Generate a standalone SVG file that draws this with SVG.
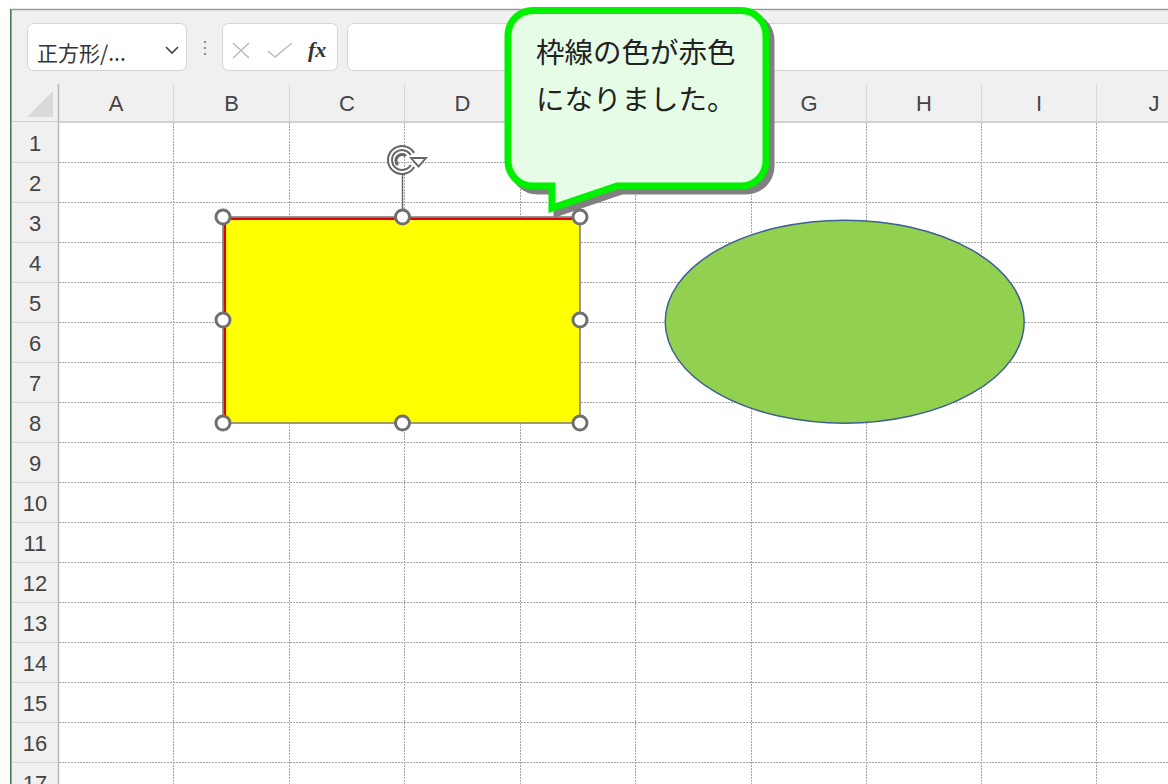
<svg xmlns="http://www.w3.org/2000/svg" width="1168" height="784" viewBox="0 0 1168 784">
<defs>
<style>
.hdr{font-family:"Liberation Sans",Arial,sans-serif;font-size:22px;fill:#444;text-anchor:middle}
.grid{stroke:#a4a4a4;stroke-width:1;stroke-dasharray:2 1;fill:none}
.hsep{stroke:#d9d9d9;stroke-width:1}
.handle{fill:#fff;stroke:#707070;stroke-width:3}
.box{fill:#fff;stroke:#d4d4d4;stroke-width:1}
.jp{font-family:"Noto Sans CJK JP","Noto Sans CJK SC",sans-serif}
</style>
</defs>
<rect width="1168" height="784" fill="#fff"/>
<g id="formula-bar">
<rect x="11" y="9" width="1157" height="113" fill="#f0f0f0"/>
<line x1="10" y1="9.5" x2="1168" y2="9.5" stroke="#9a9a9a" stroke-width="1.5"/>
<rect x="27.5" y="23.5" width="159" height="47" rx="6" class="box"/>
<text x="37" y="61" class="jp" font-size="21" fill="#333">正方形/...</text>
<path d="M166,47 L172,53 L178,47" fill="none" stroke="#444" stroke-width="1.6"/>
<g fill="#999"><circle cx="205" cy="42" r="1.3"/><circle cx="205" cy="48" r="1.3"/><circle cx="205" cy="54" r="1.3"/></g>
<rect x="222.5" y="23.5" width="115" height="47" rx="6" class="box"/>
<path d="M233,43 L249,58 M249,43 L233,58" stroke="#bbb" stroke-width="1.5" fill="none"/>
<path d="M268,51 L275,57 L292,43" stroke="#bbb" stroke-width="1.5" fill="none"/>
<text x="308" y="57" font-family="Liberation Serif,serif" font-style="italic" font-weight="bold" font-size="22" fill="#333">fx</text>
<rect x="347.5" y="23.5" width="830" height="47" rx="6" class="box"/>
</g>
<g id="column-headers">
<path d="M27,117 L53,117 L53,91 Z" fill="#d9d9d9"/>
<g class="hsep">
<line x1="58.5" y1="84" x2="58.5" y2="122"/><line x1="173.5" y1="84" x2="173.5" y2="122"/><line x1="289.5" y1="84" x2="289.5" y2="122"/><line x1="404.5" y1="84" x2="404.5" y2="122"/><line x1="520.5" y1="84" x2="520.5" y2="122"/><line x1="635.5" y1="84" x2="635.5" y2="122"/><line x1="751.5" y1="84" x2="751.5" y2="122"/><line x1="866.5" y1="84" x2="866.5" y2="122"/><line x1="981.5" y1="84" x2="981.5" y2="122"/><line x1="1096.5" y1="84" x2="1096.5" y2="122"/>
</g>
<text class="hdr" x="116" y="111">A</text><text class="hdr" x="231.5" y="111">B</text><text class="hdr" x="347" y="111">C</text><text class="hdr" x="462.5" y="111">D</text><text class="hdr" x="809" y="111">G</text><text class="hdr" x="924" y="111">H</text><text class="hdr" x="1039" y="111">I</text><text class="hdr" x="1154" y="111">J</text>
<line x1="11" y1="122" x2="1168" y2="122" stroke="#c6c6c6" stroke-width="1.5"/>
</g>
<g id="row-headers">
<rect x="11" y="122" width="47" height="662" fill="#f0f0f0"/>
<g class="hsep">
<line x1="12" y1="162.5" x2="58" y2="162.5"/><line x1="12" y1="202.5" x2="58" y2="202.5"/><line x1="12" y1="242.5" x2="58" y2="242.5"/><line x1="12" y1="282.5" x2="58" y2="282.5"/><line x1="12" y1="322.5" x2="58" y2="322.5"/><line x1="12" y1="362.5" x2="58" y2="362.5"/><line x1="12" y1="402.5" x2="58" y2="402.5"/><line x1="12" y1="442.5" x2="58" y2="442.5"/><line x1="12" y1="482.5" x2="58" y2="482.5"/><line x1="12" y1="522.5" x2="58" y2="522.5"/><line x1="12" y1="562.5" x2="58" y2="562.5"/><line x1="12" y1="602.5" x2="58" y2="602.5"/><line x1="12" y1="642.5" x2="58" y2="642.5"/><line x1="12" y1="682.5" x2="58" y2="682.5"/><line x1="12" y1="722.5" x2="58" y2="722.5"/><line x1="12" y1="762.5" x2="58" y2="762.5"/>
</g>
<text class="hdr" x="35" y="151">1</text><text class="hdr" x="35" y="191">2</text><text class="hdr" x="35" y="231">3</text><text class="hdr" x="35" y="271">4</text><text class="hdr" x="35" y="311">5</text><text class="hdr" x="35" y="351">6</text><text class="hdr" x="35" y="391">7</text><text class="hdr" x="35" y="431">8</text><text class="hdr" x="35" y="471">9</text><text class="hdr" x="35" y="511">10</text><text class="hdr" x="35" y="551">11</text><text class="hdr" x="35" y="591">12</text><text class="hdr" x="35" y="631">13</text><text class="hdr" x="35" y="671">14</text><text class="hdr" x="35" y="711">15</text><text class="hdr" x="35" y="751">16</text><text class="hdr" x="35" y="791">17</text>
<line x1="58.5" y1="84" x2="58.5" y2="784" stroke="#b8b8b8" stroke-width="1.5"/>
</g>
<line x1="10.5" y1="9" x2="10.5" y2="784" stroke="#3f7f52" stroke-width="1"/>
<line x1="11.5" y1="9" x2="11.5" y2="784" stroke="#a0a0a0" stroke-width="1"/>
<g id="grid" class="grid">
<path d="M173.5,123V784M289.5,123V784M404.5,123V784M520.5,123V784M635.5,123V784M751.5,123V784M866.5,123V784M981.5,123V784M1096.5,123V784"/>
<path d="M59,162.5H1168M59,202.5H1168M59,242.5H1168M59,282.5H1168M59,322.5H1168M59,362.5H1168M59,402.5H1168M59,442.5H1168M59,482.5H1168M59,522.5H1168M59,562.5H1168M59,602.5H1168M59,642.5H1168M59,682.5H1168M59,722.5H1168M59,762.5H1168"/>
</g>
<g id="ellipse">
<ellipse cx="844.7" cy="321.7" rx="179.5" ry="101.5" fill="#92d050" stroke="#3f5f94" stroke-width="1.5"/>
</g>
<g id="rectangle">
<rect x="223" y="217" width="357" height="206" fill="#ffff00"/>
<path d="M224.8,423 V218.8 H580" fill="none" stroke="#e00000" stroke-width="2.5"/>
<rect x="223" y="217" width="357" height="206" fill="none" stroke="#7a7a7a" stroke-width="1.5"/>
<line x1="402.5" y1="172" x2="402.5" y2="211" stroke="#666" stroke-width="1.5"/>
<g id="rotate-handle" fill="none">
<path d="M412.4,154 A12,12 0 1 0 412.4,166" stroke="#666" stroke-width="6"/>
<path d="M412.4,154 A12,12 0 1 0 412.4,166" stroke="#fff" stroke-width="2"/>
<path d="M398,165 A6,6 0 1 1 406,156" stroke="#666" stroke-width="3"/>
<path d="M409,157 L428,157 L418.5,168 Z" fill="#666" stroke="none"/>
<path d="M413,159 L424,159 L418.5,165 Z" fill="#fff" stroke="none"/>
</g>
<circle class="handle" cx="223" cy="217" r="7"/><circle class="handle" cx="402.5" cy="217" r="7"/><circle class="handle" cx="580" cy="217" r="7"/>
<circle class="handle" cx="223" cy="320" r="7"/><circle class="handle" cx="580" cy="320" r="7"/>
<circle class="handle" cx="223" cy="423" r="7"/><circle class="handle" cx="402.5" cy="423" r="7"/><circle class="handle" cx="580" cy="423" r="7"/>
</g>
<g id="callout">
<path transform="translate(5,5)" d="M533,10.5 H741 A25,25 0 0 1 766,35.5 V161 A25,25 0 0 1 741,186 H617 L552,208 L552,186 H533 A25,25 0 0 1 508,161 V35.5 A25,25 0 0 1 533,10.5 Z" fill="#808080" stroke="#808080" stroke-width="7" stroke-linejoin="miter"/>
<path d="M533,10.5 H741 A25,25 0 0 1 766,35.5 V161 A25,25 0 0 1 741,186 H617 L552,208 L552,186 H533 A25,25 0 0 1 508,161 V35.5 A25,25 0 0 1 533,10.5 Z" fill="#e6fce6" stroke="#00f000" stroke-width="7" stroke-linejoin="miter"/>
<text class="jp" x="536" y="63" font-size="28.5" fill="#222">枠線の色が赤色</text>
<text class="jp" x="536" y="110" font-size="28.5" fill="#222">になりました。</text>
</g>
</svg>
